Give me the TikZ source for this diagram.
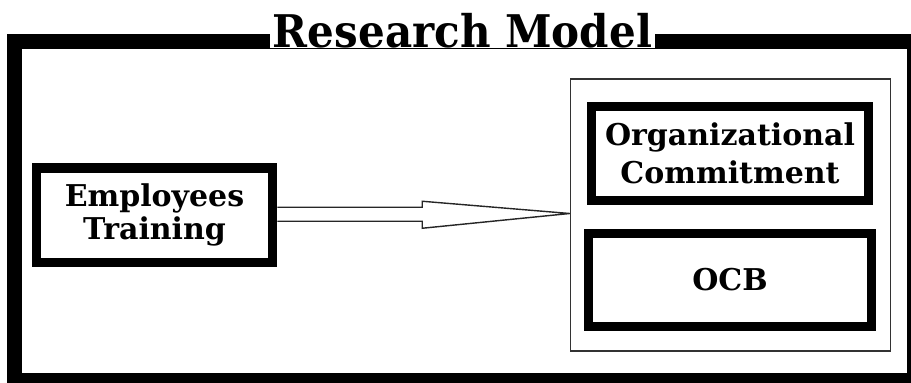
\documentclass[tikz,border=0pt]{standalone}
\usepackage{fontspec}
\usepackage{graphicx}
\setmainfont{DejaVu Serif}
\usetikzlibrary{calc}
\begin{document}
\begin{tikzpicture}[x=1pt,y=-1pt,
  heavybox/.style={draw=black, line width=9.5pt, rectangle, inner sep=0pt,
    align=center, font=\bfseries\fontsize{30}{33}\selectfont},
  groupbox/.style={draw=black!80, line width=1.5pt, rectangle, inner sep=0pt},
  frameline/.style={draw=black, line width=15pt},
  hollowarrow/.style={draw=black!85, line width=1.4pt, line join=miter}
]
\useasboundingbox (0,0) rectangle (911,383);

% outer frame of the model
\draw[frameline] (14,41) rectangle (914.5,380.5);
\node[fill=white, inner sep=0pt, minimum width=385pt, minimum height=30pt, anchor=base,
      font=\bfseries\fontsize{45}{50}\selectfont] (title) at (462.5,47)
  {\scalebox{0.935}[1]{Research Model}};

% independent variable
\node[heavybox, minimum width=236pt, minimum height=94.5pt] (emp) at (154.5,215.25)
  {Employees\\Training};

% dependent variables grouped together
\node[groupbox, minimum width=320pt, minimum height=272pt] (grp) at (730.5,215) {};
\node[heavybox, minimum width=277pt, minimum height=94pt,
      font=\bfseries\fontsize{30}{38}\selectfont] (oc) at (730,153.5)
  {Organizational\\Commitment};
\node[heavybox, minimum width=283pt, minimum height=93pt] (ocb) at (730,280) {OCB};

% hollow arrow from the training box to the group
\coordinate (tip) at ($(grp.west)+(0,-1.5)$);
\coordinate (s1) at ($(emp.east)+(0,-8)$);
\coordinate (s2) at ($(emp.east)+(0,6)$);
\draw[hollowarrow] (s1) -- ++(145,0) -- ++(0,-6) -- (tip) -- ($(s2)+(145,7)$) -- ($(s2)+(145,0)$) -- (s2);
\end{tikzpicture}
\end{document}
